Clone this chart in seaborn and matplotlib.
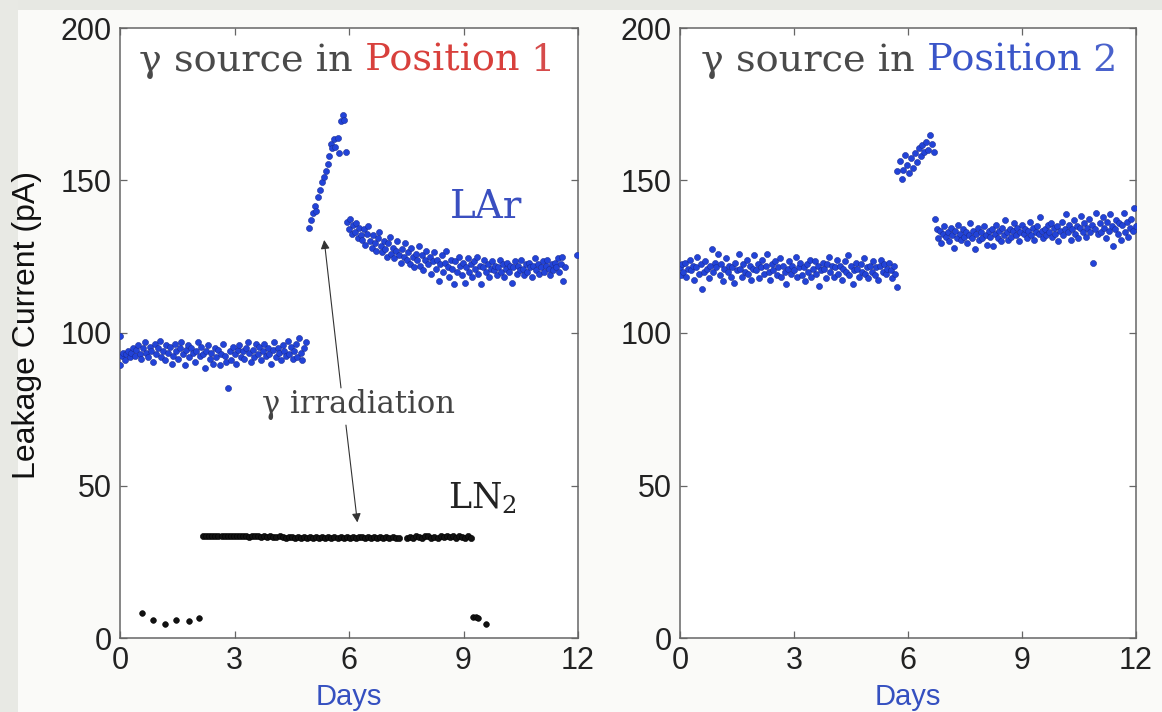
import matplotlib
matplotlib.use("Agg")
import matplotlib.pyplot as plt
from matplotlib.patches import Rectangle
import numpy as np
import pandas as pd
import seaborn as sns

# ---------------- data (day, leakage current pA) ----------------
LAR1_PRE = [(0.00,99.0),(0.00,89.5),(0.05,92.5),(0.09,93.5),(0.13,91.0),(0.17,93.0),(0.21,94.0),(0.25,92.0),(0.30,93.5),(0.34,95.0),(0.38,92.5),(0.43,94.5),(0.47,96.0),(0.52,93.0),(0.56,91.5),(0.60,95.0),(0.65,97.0),(0.69,93.5),(0.73,92.0),(0.78,95.5),(0.82,94.0),(0.86,90.5),(0.91,96.5),(0.95,93.0),(1.00,95.0),(1.04,97.5),(1.08,92.0),(1.13,94.0),(1.17,91.0),(1.21,96.0),(1.26,93.5),(1.30,95.5),(1.35,90.0),(1.39,92.5),(1.43,96.5),(1.48,94.0),(1.52,91.5),(1.56,95.0),(1.61,97.0),(1.65,93.0),(1.69,89.5),(1.74,94.5),(1.78,96.0),(1.82,92.0),(1.87,95.0),(1.91,93.5),(1.96,90.5),(2.00,94.0),(2.04,97.0),(2.09,92.5),(2.13,95.5),(2.17,93.0),(2.22,88.5),(2.26,94.0),(2.30,96.0),(2.35,91.5),(2.39,93.5),(2.43,90.0),(2.48,95.0),(2.52,92.0),(2.56,94.5),(2.61,89.5),(2.65,93.0),(2.70,96.5),(2.74,92.5),(2.78,90.5),(2.83,82.0),(2.87,94.0),(2.91,91.0),(2.96,95.5),(3.00,93.0),(3.04,90.0),(3.09,94.5),(3.13,96.0),(3.17,92.0),(3.22,94.0),(3.26,91.5),(3.30,95.0),(3.35,97.0),(3.39,93.5),(3.44,90.5),(3.48,94.5),(3.52,92.0),(3.57,96.5),(3.61,93.0),(3.65,95.5),(3.70,91.0),(3.74,94.0),(3.78,96.5),(3.83,92.5),(3.87,95.0),(3.91,93.0),(3.96,90.0),(4.00,94.5),(4.04,97.0),(4.09,92.0),(4.13,95.0),(4.17,93.5),(4.22,91.0),(4.26,96.0),(4.30,94.0),(4.35,92.5),(4.39,97.5),(4.43,93.0),(4.48,95.5),(4.52,91.5),(4.56,94.0),(4.61,96.5),(4.65,92.0),(4.70,98.5),(4.74,93.5),(4.78,91.0),(4.83,95.0),(4.87,97.0)]

LAR1_IRR = [(4.95,134.5),(5.00,137.0),(5.05,139.5),(5.10,141.5),(5.14,140.0),(5.20,144.5),(5.25,147.0),(5.30,149.5),(5.34,151.0),(5.39,153.0),(5.44,155.5),(5.48,158.0),(5.52,162.0),(5.56,160.5),(5.60,163.5),(5.64,161.0),(5.70,164.0),(5.74,159.0),(5.80,169.5),(5.84,171.5),(5.88,170.0),(5.93,159.5)]

LAR1_POST = [(5.96,136.5),(6.00,134.0),(6.03,137.5),(6.07,132.5),(6.11,135.5),(6.15,133.0),(6.19,136.0),(6.23,131.0),(6.27,134.5),(6.31,132.0),(6.35,130.5),(6.39,134.0),(6.43,129.0),(6.47,132.5),(6.51,135.0),(6.55,130.0),(6.59,128.0),(6.63,132.0),(6.67,129.5),(6.71,127.0),(6.75,131.0),(6.79,133.0),(6.83,128.5),(6.87,126.5),(6.91,130.0),(6.95,127.5),(6.99,125.0),(7.03,129.5),(7.07,131.5),(7.11,126.0),(7.15,128.0),(7.19,124.5),(7.23,127.0),(7.27,130.0),(7.31,125.5),(7.35,123.0),(7.39,127.5),(7.43,125.0),(7.47,129.5),(7.51,124.0),(7.55,126.5),(7.59,122.5),(7.63,128.0),(7.67,125.0),(7.71,121.5),(7.75,126.0),(7.79,124.0),(7.83,128.5),(7.87,122.0),(7.91,125.5),(7.95,120.5),(7.99,124.0),(8.03,127.0),(8.07,122.5),(8.11,125.0),(8.15,119.5),(8.19,123.5),(8.23,126.5),(8.27,121.0),(8.31,124.0),(8.35,117.0),(8.39,122.5),(8.43,125.5),(8.47,120.0),(8.51,123.0),(8.55,127.0),(8.59,121.5),(8.63,118.5),(8.67,124.0),(8.71,121.0),(8.75,116.0),(8.79,123.5),(8.83,120.0),(8.87,125.0),(8.91,122.0),(8.95,119.0),(8.99,123.0),(9.03,116.5),(9.07,121.5),(9.11,124.5),(9.15,120.0),(9.19,122.5),(9.23,118.5),(9.27,123.5),(9.31,121.0),(9.35,125.0),(9.39,119.5),(9.43,122.0),(9.47,116.0),(9.51,121.5),(9.55,124.0),(9.59,120.0),(9.63,122.5),(9.67,118.5),(9.71,121.0),(9.75,123.5),(9.79,120.5),(9.83,122.0),(9.87,119.0),(9.91,121.5),(9.95,124.0),(9.99,120.0),(10.03,122.5),(10.07,118.5),(10.11,121.0),(10.15,123.0),(10.19,120.0),(10.23,122.0),(10.27,116.5),(10.31,121.5),(10.35,123.5),(10.39,119.5),(10.43,122.0),(10.47,120.5),(10.51,124.0),(10.55,121.0),(10.59,119.0),(10.63,122.5),(10.67,120.0),(10.71,123.0),(10.75,121.5),(10.79,118.5),(10.83,122.0),(10.87,124.5),(10.91,120.5),(10.95,122.5),(10.99,119.5),(11.03,121.5),(11.07,123.5),(11.11,120.0),(11.15,122.0),(11.19,124.0),(11.23,121.0),(11.27,119.0),(11.31,122.5),(11.35,120.5),(11.39,123.0),(11.43,121.5),(11.47,124.5),(11.51,120.0),(11.55,122.5),(11.59,125.0),(11.62,117.0),(11.65,121.5),(11.98,125.5)]

LN2_LOW = [(0.58,8.2),(0.87,5.9),(1.19,4.6),(1.48,5.9),(1.80,5.6),(2.07,6.6),(9.25,6.9),(9.33,6.9),(9.38,6.6),(9.58,4.6)]

LN2_MAIN = [(2.18,33.6),(2.26,33.5),(2.34,33.6),(2.42,33.5),(2.50,33.6),(2.58,33.5),(2.66,33.5),(2.74,33.6),(2.82,33.4),(2.90,33.5),(2.98,33.4),(3.06,33.6),(3.14,33.3),(3.22,33.5),(3.30,33.4),(3.38,33.2),(3.46,33.5),(3.54,33.3),(3.62,33.4),(3.70,33.2),(3.78,33.4),(3.86,33.1),(3.94,33.3),(4.02,33.2),(4.10,33.0),(4.18,33.3),(4.26,33.1),(4.34,32.9),(4.42,33.2),(4.50,33.0),(4.58,32.8),(4.66,33.1),(4.74,32.9),(4.82,33.2),(4.90,32.8),(4.98,33.0),(5.06,32.9),(5.14,33.1),(5.22,32.8),(5.30,33.0),(5.38,32.9),(5.46,33.2),(5.54,32.8),(5.62,33.0),(5.70,32.9),(5.78,33.1),(5.86,32.8),(5.94,33.0),(6.02,32.9),(6.10,33.2),(6.18,32.8),(6.26,33.0),(6.34,33.2),(6.42,32.9),(6.50,33.1),(6.58,32.8),(6.66,33.2),(6.74,32.9),(6.82,33.1),(6.90,32.7),(6.98,33.0),(7.06,32.8),(7.14,33.1),(7.22,32.7),(7.30,32.9),(7.52,32.8),(7.60,33.1),(7.68,32.9),(7.76,33.4),(7.84,33.0),(7.92,32.8),(8.00,33.3),(8.08,33.6),(8.16,32.9),(8.24,33.2),(8.32,32.7),(8.40,33.5),(8.48,33.1),(8.56,33.6),(8.64,33.0),(8.72,33.4),(8.80,32.8),(8.88,33.5),(8.96,33.2),(9.04,32.9),(9.12,33.4),(9.20,32.8)]

LAR2_PRE = [(0.00,121.5),(0.02,119.0),(0.05,122.5),(0.09,120.0),(0.13,123.0),(0.17,118.5),(0.21,121.0),(0.25,124.0),(0.30,120.5),(0.34,122.0),(0.38,117.5),(0.42,121.5),(0.46,125.0),(0.50,119.5),(0.55,122.5),(0.59,114.5),(0.63,120.0),(0.67,123.5),(0.71,121.0),(0.75,118.0),(0.80,122.0),(0.84,127.5),(0.88,120.0),(0.92,123.0),(0.96,121.5),(1.00,126.0),(1.05,119.0),(1.09,122.5),(1.13,117.0),(1.17,121.0),(1.21,124.5),(1.25,120.0),(1.30,122.0),(1.34,118.5),(1.38,121.5),(1.42,116.5),(1.46,123.0),(1.50,120.5),(1.55,126.0),(1.59,121.0),(1.63,118.5),(1.67,122.5),(1.71,120.0),(1.75,124.0),(1.80,119.5),(1.84,122.0),(1.88,117.5),(1.92,121.0),(1.96,125.5),(2.00,120.5),(2.05,122.5),(2.09,118.0),(2.13,121.5),(2.17,124.0),(2.21,119.5),(2.25,122.0),(2.30,126.0),(2.34,120.0),(2.38,117.5),(2.42,122.5),(2.46,120.5),(2.50,123.5),(2.55,119.0),(2.59,121.5),(2.63,124.5),(2.67,118.5),(2.71,122.0),(2.75,120.0),(2.80,116.0),(2.84,121.0),(2.88,123.5),(2.92,119.5),(2.96,122.0),(3.00,120.5),(3.05,125.0),(3.09,118.5),(3.13,121.5),(3.17,123.0),(3.21,119.0),(3.25,121.5),(3.30,117.0),(3.34,122.5),(3.38,120.0),(3.42,124.0),(3.46,118.5),(3.50,121.0),(3.55,123.5),(3.59,119.5),(3.63,122.0),(3.67,115.5),(3.71,120.5),(3.75,123.0),(3.80,121.0),(3.84,118.0),(3.88,122.5),(3.92,125.0),(3.96,120.0),(4.00,122.0),(4.05,118.5),(4.09,121.5),(4.13,124.0),(4.17,119.5),(4.21,122.0),(4.25,117.5),(4.30,121.0),(4.34,123.5),(4.38,120.0),(4.42,125.5),(4.46,119.0),(4.50,122.0),(4.55,116.0),(4.59,120.5),(4.63,123.0),(4.67,121.0),(4.71,118.5),(4.75,122.5),(4.80,120.0),(4.84,124.5),(4.88,119.5),(4.92,121.5),(4.96,118.0),(5.00,122.0),(5.05,120.0),(5.09,123.5),(5.13,119.0),(5.17,121.5),(5.21,117.5),(5.25,122.0),(5.30,124.0),(5.34,120.0),(5.38,122.5),(5.42,119.5),(5.46,121.0),(5.50,123.0),(5.55,120.5),(5.59,118.0),(5.63,122.0),(5.67,119.5),(5.71,115.0)]

LAR2_IRR = [(5.72,153.0),(5.78,156.5),(5.83,150.5),(5.88,153.5),(5.93,158.5),(5.98,155.0),(6.03,152.5),(6.08,157.5),(6.13,154.0),(6.18,159.0),(6.23,156.0),(6.28,160.5),(6.33,158.0),(6.38,161.5),(6.43,159.5),(6.48,162.5),(6.53,160.0),(6.58,165.0),(6.63,162.0),(6.68,159.5)]

LAR2_POST = [(6.72,137.5),(6.76,134.0),(6.80,131.0),(6.84,133.5),(6.88,129.5),(6.92,132.5),(6.96,135.0),(7.00,131.5),(7.04,133.0),(7.08,130.0),(7.12,134.5),(7.16,132.0),(7.20,128.0),(7.24,133.5),(7.28,131.0),(7.32,135.5),(7.36,132.5),(7.40,130.5),(7.44,134.0),(7.48,131.5),(7.52,133.0),(7.56,129.5),(7.60,132.0),(7.64,136.0),(7.68,131.0),(7.72,133.5),(7.76,127.5),(7.80,132.5),(7.84,134.5),(7.88,130.5),(7.92,133.0),(7.96,131.0),(8.00,135.0),(8.04,132.0),(8.08,129.0),(8.12,133.5),(8.16,131.5),(8.20,134.0),(8.24,128.5),(8.28,132.5),(8.32,135.5),(8.36,131.0),(8.40,133.5),(8.44,130.0),(8.48,134.5),(8.52,132.0),(8.56,137.0),(8.60,133.0),(8.64,130.5),(8.68,134.0),(8.72,131.5),(8.76,133.5),(8.80,136.0),(8.84,132.0),(8.88,134.5),(8.92,130.0),(8.96,133.0),(9.00,135.5),(9.04,132.5),(9.08,134.0),(9.12,131.0),(9.16,133.5),(9.20,136.5),(9.24,132.0),(9.28,134.5),(9.32,130.5),(9.36,133.0),(9.40,135.0),(9.44,132.5),(9.48,138.0),(9.52,133.5),(9.56,131.0),(9.60,134.0),(9.64,132.0),(9.68,135.5),(9.72,133.0),(9.76,136.0),(9.80,131.5),(9.84,134.5),(9.88,132.5),(9.92,135.0),(9.96,130.0),(10.00,133.5),(10.04,136.5),(10.08,132.0),(10.12,134.0),(10.16,139.0),(10.20,133.0),(10.24,135.5),(10.28,130.5),(10.32,134.0),(10.36,137.0),(10.40,132.5),(10.44,135.0),(10.48,131.0),(10.52,134.5),(10.56,138.5),(10.60,133.0),(10.64,136.0),(10.68,131.5),(10.72,134.5),(10.76,137.5),(10.80,133.0),(10.84,135.5),(10.88,123.0),(10.92,134.0),(10.96,139.5),(11.00,132.5),(11.04,136.0),(11.08,133.0),(11.12,138.0),(11.16,134.5),(11.20,131.0),(11.24,136.5),(11.28,133.5),(11.32,139.0),(11.36,135.0),(11.40,128.5),(11.44,134.0),(11.48,137.0),(11.52,132.5),(11.56,136.0),(11.60,130.5),(11.64,135.5),(11.68,139.5),(11.72,133.0),(11.76,136.5),(11.80,131.5),(11.84,134.5),(11.88,137.5),(11.92,133.5),(11.96,141.0),(11.99,135.0)]

X_TICKS = [0, 3, 6, 9, 12]
Y_TICKS = [0, 50, 100, 150, 200]
Y_LABEL = "Leakage Current (pA)"
X_LABEL = "Days"

# ---------------- style ----------------
sns.set_style("ticks")
plt.rcParams["font.family"] = ["Liberation Sans", "DejaVu Sans"]
plt.rcParams["mathtext.fontset"] = "dejavuserif"

BLUE = "#2243d8"
BLUE_EDGE = "#1a2c96"
SPINE = "#666666"

W, H = 1162, 712
fig = plt.figure(figsize=(W / 100, H / 100), dpi=100, facecolor="#fafaf8")
fig.patches.append(Rectangle((0, 1 - 10 / H), 1, 10 / H, transform=fig.transFigure,
                             facecolor="#e7e8e3", edgecolor="none", zorder=-5))
fig.patches.append(Rectangle((0, 0), 18 / W, 1, transform=fig.transFigure,
                             facecolor="#e8e9e4", edgecolor="none", zorder=-5))

ax1 = fig.add_axes([120 / W, 1 - 638 / H, 458 / W, 610 / H])
ax2 = fig.add_axes([680 / W, 1 - 638 / H, 456 / W, 610 / H])


def df_of(pairs):
    return pd.DataFrame(pairs, columns=["day", "current"])


def dots(ax, pairs, color, edge, s=19):
    sns.scatterplot(data=df_of(pairs), x="day", y="current", ax=ax, color=color,
                    edgecolor=edge, linewidth=0.4, s=s, legend=False, zorder=3)


for seg in (LAR1_PRE, LAR1_IRR, LAR1_POST):
    dots(ax1, seg, BLUE, BLUE_EDGE)
dots(ax1, LN2_MAIN, "#111111", "#000000", s=20)
dots(ax1, LN2_LOW, "#111111", "#000000", s=17)
for seg in (LAR2_PRE, LAR2_IRR, LAR2_POST):
    dots(ax2, seg, BLUE, BLUE_EDGE)

for ax in (ax1, ax2):
    ax.set_facecolor("white")
    ax.set_xlim(0, 12)
    ax.set_ylim(0, 200)
    ax.set_xticks(X_TICKS)
    ax.set_yticks(Y_TICKS)
    ax.tick_params(direction="in", top=True, right=True, length=5, width=0.9,
                   color=SPINE, labelsize=22, labelcolor="#222222")
    ax.tick_params(axis="y", pad=6)
    ax.tick_params(axis="x", pad=6)
    for sp in ax.spines.values():
        sp.set_visible(True)
        sp.set_color(SPINE)
        sp.set_linewidth(1.1)
    ax.set_ylabel("")
    ax.set_xlabel(X_LABEL, fontsize=21, color="#3550c0")
    ax.xaxis.set_label_coords(0.5, -0.074)

ax1.set_ylabel(Y_LABEL, fontsize=23, color="#111111")
ax1.yaxis.set_label_coords(-0.17, 0.513)


def colored_title(ax, x, y, pieces, size=27.5):
    prev = None
    for txt, col in pieces:
        if prev is None:
            prev = ax.text(x, y, txt, color=col, fontsize=size, family="DejaVu Serif",
                           ha="left", va="baseline", zorder=5)
        else:
            prev = ax.annotate(txt, xy=(1, 0), xycoords=prev, color=col, fontsize=size,
                               family="DejaVu Serif", ha="left", va="bottom", zorder=5)


colored_title(ax1, 0.50, 186.0, [("γ source in", "#4a4a4a"), (" Position", "#d8403c"), (" 1", "#d64b4b")])
colored_title(ax2, 0.55, 186.0, [("γ source in", "#4a4a4a"), (" Position", "#3a55c8"), (" 2", "#4a62cc")])

ax1.text(9.6, 141, "LAr", color="#3a4fc0", fontsize=28, family="DejaVu Serif",
         ha="center", va="center", zorder=5)
ax1.text(9.5, 46.0, "LN$_2$", color="#222222", fontsize=25, family="DejaVu Serif",
         ha="center", va="center", zorder=5)
ax1.text(6.25, 76.4, "γ irradiation", color="#444444", fontsize=22, family="DejaVu Serif",
         ha="center", va="center", zorder=5)

arrow_kw = dict(arrowstyle="-|>", lw=0.8, color="#333333", mutation_scale=13,
                shrinkA=0, shrinkB=0)
ax1.annotate("", xy=(5.35, 130.5), xytext=(5.79, 82.0), arrowprops=arrow_kw, zorder=4)
ax1.annotate("", xy=(6.22, 37.9), xytext=(5.92, 69.8), arrowprops=arrow_kw, zorder=4)

fig.savefig("out.png", dpi=100, facecolor=fig.get_facecolor())
